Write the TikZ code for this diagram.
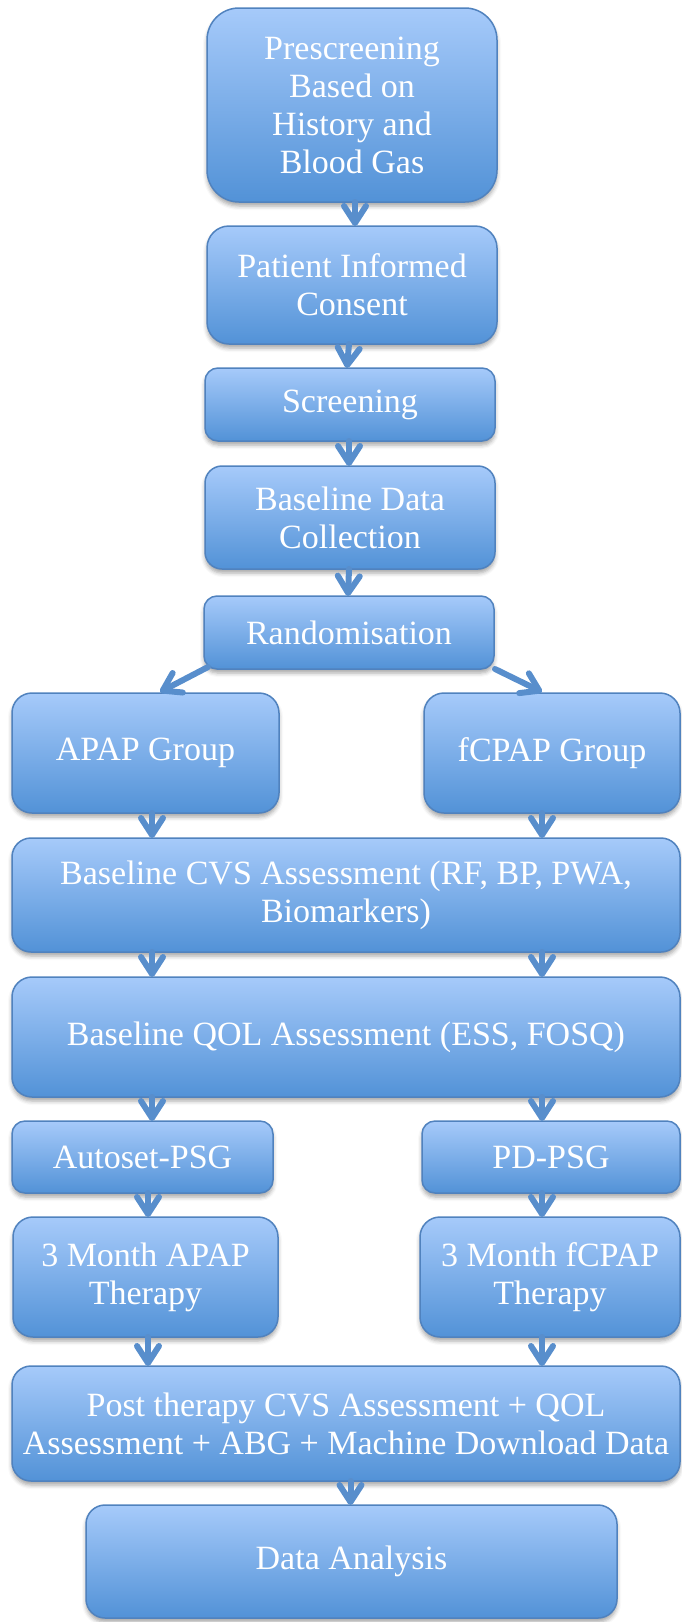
\documentclass[tikz,border=0pt]{standalone}
\usepackage{fontspec}
\setmainfont{Liberation Serif}
\usetikzlibrary{arrows.meta,shadows.blur}
\definecolor{boxtop}{RGB}{166,202,250}
\definecolor{boxbot}{RGB}{82,146,215}
\definecolor{boxline}{RGB}{80,130,190}
\definecolor{arrowcol}{RGB}{88,142,204}
\tikzset{
  box/.style={rectangle, rounded corners=#1, draw=boxline, line width=1.5pt,
    top color=boxtop, bottom color=boxbot, text=white, align=center,
    inner sep=0pt, outer sep=0pt, anchor=north west,
    font=\fontsize{34}{38}\selectfont,
    blur shadow={shadow xshift=0pt, shadow yshift=-4pt, shadow blur radius=4pt, shadow opacity=35}},
  box/.default=18pt,
  flow/.style={draw=arrowcol, line width=6pt, line cap=round,
    -{Straight Barb[length=17pt, width=22pt, round]}},
  sz/.style 2 args={minimum width=#1pt, minimum height=#2pt}
}
\begin{document}
\begin{tikzpicture}[x=1pt, y=-1pt]
\useasboundingbox (0,0) rectangle (681,1622);

% main column
\node[box=32pt, sz={290}{194}] (pre) at (207,8) {Prescreening\\Based on\\History and\\Blood Gas};
\node[box=22pt, sz={290}{118}] (pic) at (207,226) {Patient Informed\\Consent};
\node[box=13pt, sz={290}{73}]  (scr) at (205,368) {Screening};
\node[box=17pt, sz={290}{103}] (bdc) at (205,466) {Baseline Data\\Collection};
\node[box=13pt, sz={290}{73}]  (ran) at (204,596) {Randomisation};

% treatment arms
\node[box=20pt, sz={267}{120}] (apap)  at (12,693)  {APAP Group};
\node[box=20pt, sz={256}{120}] (fcpap) at (424,693) {fCPAP Group};

% common assessments
\node[box=19pt, sz={668}{114}] (cvs) at (12,838) {Baseline CVS Assessment (RF, BP, PWA,\\Biomarkers)};
\node[box=20pt, sz={668}{120}] (qol) at (12,977) {Baseline QOL Assessment (ESS, FOSQ)};

% sleep studies and therapy
\node[box=13pt, sz={261}{72}]  (auto) at (12,1121)  {Autoset-PSG};
\node[box=13pt, sz={258}{72}]  (pd)   at (422,1121) {PD-PSG};
\node[box=20pt, sz={265}{120}] (m3a)  at (13,1217)  {3 Month APAP\\Therapy};
\node[box=20pt, sz={260}{120}] (m3f)  at (420,1217) {3 Month fCPAP\\Therapy};

% follow-up
\node[box=19pt, sz={668}{115}] (post) at (12,1366) {Post therapy CVS Assessment + QOL\\Assessment + ABG + Machine Download Data};
\node[box=19pt, sz={531}{113}] (data) at (86,1505)  {Data Analysis};

% branch points
\coordinate (ranL) at (208,667);
\coordinate (ranR) at (495,669);
\coordinate (tipL) at (160,692);
\coordinate (tipR) at (542,692);
\coordinate (colL) at (152,0);
\coordinate (colR) at (542,0);

% connectors
\draw[flow] ([xshift=3pt]pre.south) -- ([xshift=3pt]pic.north);
\draw[flow] ([xshift=-3pt]pic.south) -- ([xshift=-3pt]scr.north);
\draw[flow] ([xshift=-1pt]scr.south) -- ([xshift=-1pt]bdc.north);
\draw[flow] ([xshift=-1pt]bdc.south) -- ([xshift=-1pt]ran.north);
\draw[flow] (ranL) -- (tipL);
\draw[flow] (ranR) -- (tipR);

\draw[flow] (colL |- apap.south) -- (colL |- cvs.north);
\draw[flow] (colR |- fcpap.south) -- (colR |- cvs.north);
\draw[flow] (colL |- cvs.south) -- (colL |- qol.north);
\draw[flow] (colR |- cvs.south) -- (colR |- qol.north);
\draw[flow] (colL |- qol.south) -- (colL |- auto.north);
\draw[flow] (colR |- qol.south) -- (colR |- pd.north);
\draw[flow] ([xshift=-4pt]colL |- auto.south) -- ([xshift=-4pt]colL |- m3a.north);
\draw[flow] (colR |- pd.south) -- (colR |- m3f.north);
\draw[flow] ([xshift=-4pt]colL |- m3a.south) -- ([xshift=-4pt]colL |- post.north);
\draw[flow] (colR |- m3f.south) -- (colR |- post.north);
\draw[flow] ([xshift=-1pt]post.south -| data.north) -- ([xshift=-1pt]data.north);
\end{tikzpicture}
\end{document}
